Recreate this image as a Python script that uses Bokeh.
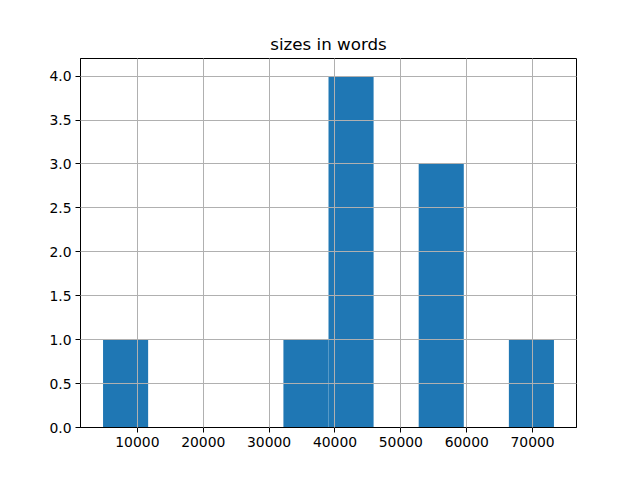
from bokeh.plotting import figure
from bokeh.models import FixedTicker, Range1d, Title, PrintfTickFormatter
from bokeh.embed import file_html
from bokeh.resources import INLINE

# histogram bin edges (words) and counts
bin_edges = [4787, 11633, 18479, 25325, 32171, 39017, 45862, 52708, 59554, 66400, 73244]
counts = [1, 0, 0, 0, 1, 4, 0, 3, 0, 1]
x_ticks = [10000, 20000, 30000, 40000, 50000, 60000, 70000]
y_ticks = [0.0, 0.5, 1.0, 1.5, 2.0, 2.5, 3.0, 3.5, 4.0]
title_text = "sizes in words"

lefts = bin_edges[:-1]
rights = bin_edges[1:]
span = bin_edges[-1] - bin_edges[0]

p = figure(width=640, height=480, output_backend="svg", toolbar_location=None,
           x_range=Range1d(bin_edges[0] - 0.05 * span, bin_edges[-1] + 0.05 * span),
           y_range=Range1d(0, max(counts) * 1.05),
           min_border_left=80, min_border_right=64, min_border_top=58, min_border_bottom=53)
p.title = Title(text=title_text, align="center", text_font="DejaVu Sans",
                text_font_size="16.7px", text_font_style="normal", text_color="black",
                offset=0, standoff=9)

p.quad(left=lefts, right=rights, bottom=[0] * len(counts), top=counts,
       fill_color="#1f77b4", line_color=None)

p.outline_line_color = "black"
p.outline_line_width = 1
p.background_fill_color = "white"
p.border_fill_color = "white"

for ax in (p.xaxis[0], p.yaxis[0]):
    ax.axis_line_color = "black"
    ax.major_tick_line_color = "black"
    ax.major_tick_out = 5
    ax.major_tick_in = 0
    ax.minor_tick_line_color = None
    ax.major_label_text_font = "DejaVu Sans"
    ax.major_label_text_font_size = "13.9px"
    ax.major_label_text_color = "black"
    ax.major_label_standoff = 4

p.xaxis[0].ticker = FixedTicker(ticks=x_ticks)
p.yaxis[0].ticker = FixedTicker(ticks=y_ticks)
p.yaxis[0].formatter = PrintfTickFormatter(format="%.1f")
p.xaxis[0].formatter = PrintfTickFormatter(format="%d")

for g in (p.xgrid[0], p.ygrid[0]):
    g.grid_line_color = "#b0b0b0"
    g.grid_line_width = 1
    g.level = "overlay"

open("out.html", "w").write(file_html(p, INLINE))
